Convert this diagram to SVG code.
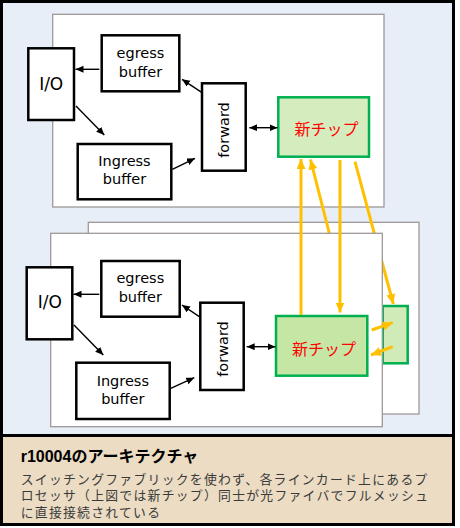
<svg xmlns="http://www.w3.org/2000/svg" width="460" height="528" viewBox="0 0 460 528">
<style>
.card{fill:#ffffff;stroke:#9e9898;stroke-width:1.3}
.box{fill:#ffffff;stroke:#000000;stroke-width:2.5}
.chip{stroke:#00b050;stroke-width:2.5}
.lbl{font-family:"DejaVu Sans","Liberation Sans",sans-serif;font-size:14.5px;fill:#000000;text-anchor:middle}
.io{font-size:17px}
.jp{font-family:"Noto Sans CJK JP",sans-serif;font-size:16px;fill:#ff0000;text-anchor:middle}
.blk{stroke:#000000;stroke-width:1.4;fill:none;marker-end:url(#ah)}
.dbl{stroke:#000000;stroke-width:1.4;fill:none;marker-end:url(#ah);marker-start:url(#ah)}
.yl{stroke:#ffc000;stroke-width:3;fill:none;marker-end:url(#yh)}
.cap{font-family:"Liberation Sans","Noto Sans CJK JP",sans-serif;fill:#3a3a3a;font-size:12.8px;letter-spacing:1.3px}
.ttl{font-family:"Liberation Sans","Noto Sans CJK JP",sans-serif;font-size:16px;font-weight:bold;fill:#000000}
</style>
<defs>
<marker id="ah" markerUnits="userSpaceOnUse" markerWidth="9" markerHeight="8" refX="8" refY="3.5" orient="auto-start-reverse"><path d="M0,0 L8,3.5 L0,7 z" fill="#000000"/></marker>
<marker id="yh" markerUnits="userSpaceOnUse" markerWidth="11" markerHeight="10" refX="10" refY="4.5" orient="auto"><path d="M0,0 L10,4.5 L0,9 z" fill="#ffc000"/></marker>
</defs>
<rect x="1.5" y="1.5" width="452" height="434" fill="#e8eef7"/>
<rect x="1.5" y="435.5" width="452" height="89" fill="#ebdcc3"/>
<rect x="1.5" y="1.5" width="452" height="523" fill="none" stroke="#000000" stroke-width="3"/>
<line x1="1.5" y1="435.5" x2="453.5" y2="435.5" stroke="#000000" stroke-width="3"/>

<g id="card-top">
<rect class="card" x="52.7" y="14.3" width="331.3" height="192.7"/>
</g>
<g id="io-top"><rect class="box" x="28.3" y="48.3" width="45.7" height="71.7"/><text class="lbl io" x="51.2" y="89.5">I/O</text></g>
<g id="egress-top"><rect class="box" x="101.7" y="35.3" width="77.6" height="56"/><text class="lbl" x="140.5" y="58.3">egress</text><text class="lbl" x="140.5" y="77.3">buffer</text></g>
<g id="forward-top"><rect class="box" x="202" y="83.3" width="43.7" height="87.4"/><text class="lbl" transform="translate(229,130) rotate(-90)">forward</text></g>
<g id="ingress-top"><rect class="box" x="77.7" y="144" width="93.6" height="55.3"/><text class="lbl" x="124.5" y="165.7">Ingress</text><text class="lbl" x="124.5" y="184.3">buffer</text></g>
<g id="chip-top"><rect class="chip" x="278.3" y="97.3" width="90.7" height="59.4" fill="#d5edbe"/><text class="jp" x="326.5" y="135">新チップ</text></g>

<g id="card-back">
<rect class="card" x="88.3" y="222.3" width="330.7" height="191.7"/>
</g>
<g id="chip-back"><rect class="chip" x="382.7" y="306" width="25" height="57.3" fill="#d0eab8"/></g>

<g id="connectors-behind">
<line class="yl" x1="331" y1="240" x2="310.5" y2="159.5"/>
<line class="yl" x1="355" y1="161.7" x2="393.3" y2="304"/>
</g>

<g id="card-front">
<rect class="card" x="50.7" y="233.3" width="331.6" height="193.4"/>
</g>
<g id="io-front"><rect class="box" x="26.7" y="267.3" width="45.6" height="72"/><text class="lbl io" x="49.8" y="307.5">I/O</text></g>
<g id="egress-front"><rect class="box" x="101.3" y="261" width="78.4" height="55.7"/><text class="lbl" x="140.3" y="283">egress</text><text class="lbl" x="140.3" y="302.3">buffer</text></g>
<g id="forward-front"><rect class="box" x="200.3" y="302.7" width="43.4" height="87.3"/><text class="lbl" transform="translate(227.5,349) rotate(-90)">forward</text></g>
<g id="ingress-front"><rect class="box" x="76.3" y="362.7" width="93.4" height="56.3"/><text class="lbl" x="122.8" y="385.7">Ingress</text><text class="lbl" x="122.8" y="404.3">buffer</text></g>
<g id="chip-front"><rect class="chip" x="276" y="316" width="91.3" height="59.7" fill="#c6e6a5"/><text class="jp" x="324" y="354.5">新チップ</text></g>

<g id="connectors">
<line class="blk" x1="99.3" y1="69.3" x2="75.5" y2="69.3"/>
<line class="blk" x1="76" y1="106" x2="104.3" y2="135"/>
<line class="blk" x1="172.3" y1="169.3" x2="195" y2="158.3"/>
<line class="blk" x1="201.7" y1="92.3" x2="182" y2="79.3"/>
<line class="dbl" x1="249.3" y1="127.7" x2="277.5" y2="127.7"/>
<line class="blk" x1="99.3" y1="294.3" x2="73.5" y2="294.3"/>
<line class="blk" x1="74" y1="325" x2="103.3" y2="355"/>
<line class="blk" x1="170.7" y1="388.3" x2="194.3" y2="377.7"/>
<line class="blk" x1="199.3" y1="316.7" x2="182" y2="305"/>
<line class="dbl" x1="246.7" y1="346.7" x2="275.5" y2="346.7"/>
<line class="yl" x1="301" y1="315" x2="301" y2="159"/>
<line class="yl" x1="340" y1="160" x2="340" y2="312.5"/>
<line class="yl" x1="371.7" y1="330" x2="392.7" y2="322.7"/>
<line class="yl" x1="392.7" y1="346.7" x2="371" y2="355"/>
</g>

<g id="caption">
<text class="ttl" x="20.7" y="461.5">r10004のアーキテクチャ</text>
<text class="cap" x="20.7" y="483.5">スイッチングファブリックを使わず、各ラインカード上にあるプ</text>
<text class="cap" x="20.7" y="500">ロセッサ（上図では新チップ）同士が光ファイバでフルメッシュ</text>
<text class="cap" x="20.7" y="516.5">に直接接続されている</text>
</g>
</svg>
